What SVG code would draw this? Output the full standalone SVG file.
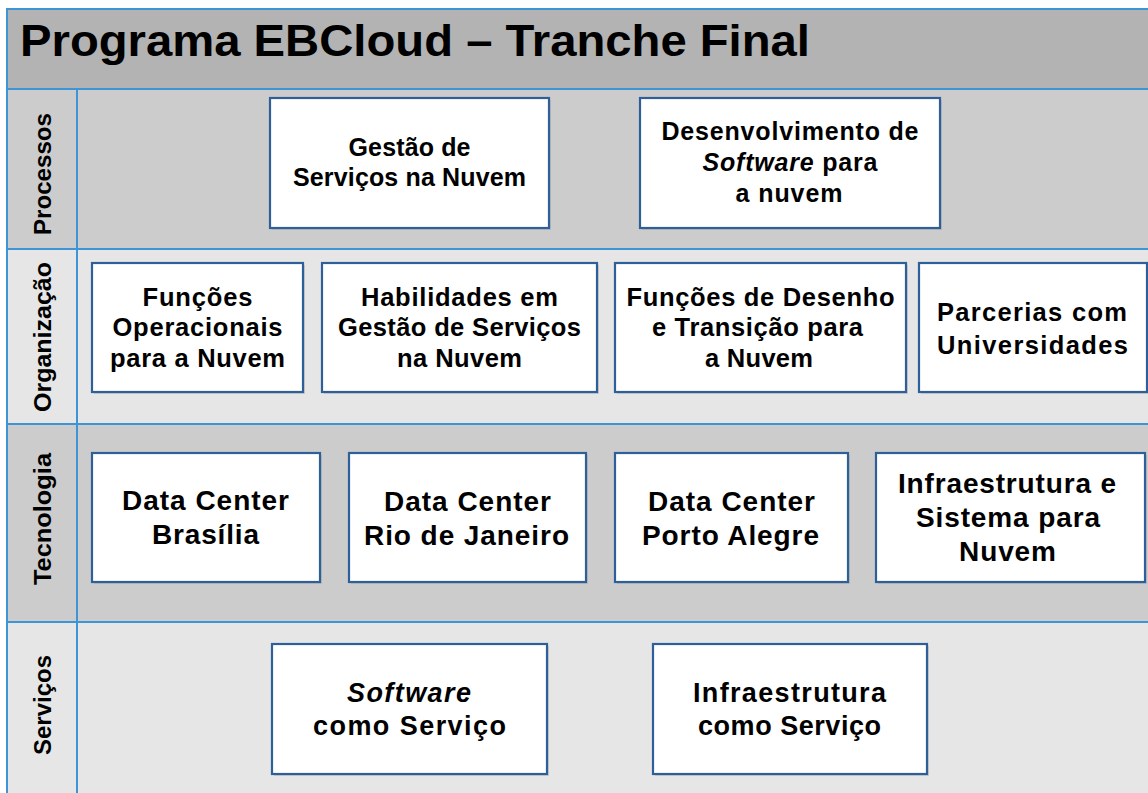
<svg xmlns="http://www.w3.org/2000/svg" width="1148" height="793" viewBox="0 0 1148 793">
<style>
.t{font-family:"Liberation Sans",Arial,sans-serif;font-weight:bold;font-size:25px;fill:#000;text-anchor:middle}
.r2 .t{font-size:25.5px}
.r3 .t{font-size:28px}
.r4 .t{font-size:27px}
.lbl{font-family:"Liberation Sans",Arial,sans-serif;font-weight:bold;font-size:24.5px;fill:#000;text-anchor:middle}
.box{fill:#fff;stroke:#2f5f98;stroke-width:2.2}
.sh{fill:#9a9a9a;opacity:0.35}
.grid{stroke:#3d95d8;stroke-width:2;fill:none}
.it{font-style:italic}
</style>
<rect x="0" y="0" width="1148" height="793" fill="#fff"/>
<g id="background">
<rect x="7" y="9" width="1141" height="80" fill="#b3b3b3"/>
<rect x="7" y="89" width="1141" height="160" fill="#cccccc"/>
<rect x="7" y="249" width="1141" height="175" fill="#e6e6e6"/>
<rect x="7" y="424" width="1141" height="198" fill="#cccccc"/>
<rect x="7" y="622" width="1141" height="171" fill="#e6e6e6"/>
<path class="grid" d="M7 793V9H1148M7 89H1148M7 249H1148M7 424H1148M7 622H1148M77 89V793"/>
<text x="20" y="56" font-family="Liberation Sans,Arial,sans-serif" font-weight="bold" font-size="45" textLength="790" lengthAdjust="spacingAndGlyphs">Programa EBCloud – Tranche Final</text>
</g>
<g id="row-labels">
<text class="lbl" transform="translate(51,174) rotate(-90)" textLength="122" lengthAdjust="spacingAndGlyphs">Processos</text>
<text class="lbl" transform="translate(51,337) rotate(-90)" textLength="150" lengthAdjust="spacingAndGlyphs">Organização</text>
<text class="lbl" transform="translate(51,519) rotate(-90)" textLength="132" lengthAdjust="spacingAndGlyphs">Tecnologia</text>
<text class="lbl" transform="translate(51,705) rotate(-90)" textLength="100" lengthAdjust="spacingAndGlyphs">Serviços</text>
</g>
<g class="r1">
<g id="n-gestao">
<rect class="sh" x="272" y="100" width="279" height="130"/>
<rect class="box" x="270" y="98" width="279" height="130"/>
<text class="t" x="409.5" y="156" textLength="122">Gestão de</text>
<text class="t" x="409.5" y="186" textLength="233">Serviços na Nuvem</text>
</g>
<g id="n-desenvolvimento">
<rect class="sh" x="642" y="100" width="300" height="130"/>
<rect class="box" x="640" y="98" width="300" height="130"/>
<text class="t" x="790" y="140" textLength="257">Desenvolvimento de</text>
<text class="t" x="790" y="171" textLength="175"><tspan class="it">Software</tspan> para</text>
<text class="t" x="789" y="202" textLength="107">a nuvem</text>
</g>
</g>
<g class="r2">
<g id="n-funcoes-operacionais">
<rect class="sh" x="94" y="265" width="211" height="129"/>
<rect class="box" x="92" y="263" width="211" height="129"/>
<text class="t" x="197.5" y="306" textLength="110">Funções</text>
<text class="t" x="197.5" y="336" textLength="170">Operacionais</text>
<text class="t" x="197.5" y="367" textLength="175">para a Nuvem</text>
</g>
<g id="n-habilidades">
<rect class="sh" x="324" y="265" width="275" height="129"/>
<rect class="box" x="322" y="263" width="275" height="129"/>
<text class="t" x="459.5" y="306" textLength="197">Habilidades em</text>
<text class="t" x="459.5" y="336" textLength="243">Gestão de Serviços</text>
<text class="t" x="459.5" y="367" textLength="125">na Nuvem</text>
</g>
<g id="n-funcoes-desenho">
<rect class="sh" x="617" y="265" width="291" height="129"/>
<rect class="box" x="615" y="263" width="291" height="129"/>
<text class="t" x="760.5" y="306" textLength="268">Funções de Desenho</text>
<text class="t" x="757.5" y="336" textLength="211">e Transição para</text>
<text class="t" x="759" y="367" textLength="108">a Nuvem</text>
</g>
<g id="n-parcerias">
<rect class="sh" x="921" y="265" width="230" height="129"/>
<rect class="box" x="919" y="263" width="228" height="129"/>
<text class="t" x="1032" y="321" textLength="190">Parcerias com</text>
<text class="t" x="1032.5" y="354" textLength="191">Universidades</text>
</g>
</g>
<g class="r3">
<g id="n-dc-brasilia">
<rect class="sh" x="94" y="455" width="228" height="129"/>
<rect class="box" x="92" y="453" width="228" height="129"/>
<text class="t" x="205.5" y="510" textLength="167">Data Center</text>
<text class="t" x="205.5" y="544" textLength="107">Brasília</text>
</g>
<g id="n-dc-rio">
<rect class="sh" x="351" y="455" width="237" height="129"/>
<rect class="box" x="349" y="453" width="237" height="129"/>
<text class="t" x="467.5" y="511" textLength="167">Data Center</text>
<text class="t" x="466.5" y="545" textLength="205">Rio de Janeiro</text>
</g>
<g id="n-dc-porto-alegre">
<rect class="sh" x="617" y="455" width="233" height="129"/>
<rect class="box" x="615" y="453" width="233" height="129"/>
<text class="t" x="731.5" y="511" textLength="167">Data Center</text>
<text class="t" x="730.5" y="545" textLength="177">Porto Alegre</text>
</g>
<g id="n-infra-sistema">
<rect class="sh" x="878" y="455" width="269" height="129"/>
<rect class="box" x="876" y="453" width="269" height="129"/>
<text class="t" x="1007" y="493" textLength="218">Infraestrutura e</text>
<text class="t" x="1008" y="527" textLength="184">Sistema para</text>
<text class="t" x="1007.5" y="561" textLength="97">Nuvem</text>
</g>
</g>
<g class="r4">
<g id="n-saas">
<rect class="sh" x="274" y="646" width="275" height="130"/>
<rect class="box" x="272" y="644" width="275" height="130"/>
<text class="t it" x="409" y="702" textLength="124">Software</text>
<text class="t" x="409.5" y="735" textLength="193">como Serviço</text>
</g>
<g id="n-iaas">
<rect class="sh" x="655" y="646" width="274" height="130"/>
<rect class="box" x="653" y="644" width="274" height="130"/>
<text class="t" x="789.5" y="702" textLength="193">Infraestrutura</text>
<text class="t" x="789.5" y="735" textLength="183">como Serviço</text>
</g>
</g>
<g id="connectors"></g>
</svg>
